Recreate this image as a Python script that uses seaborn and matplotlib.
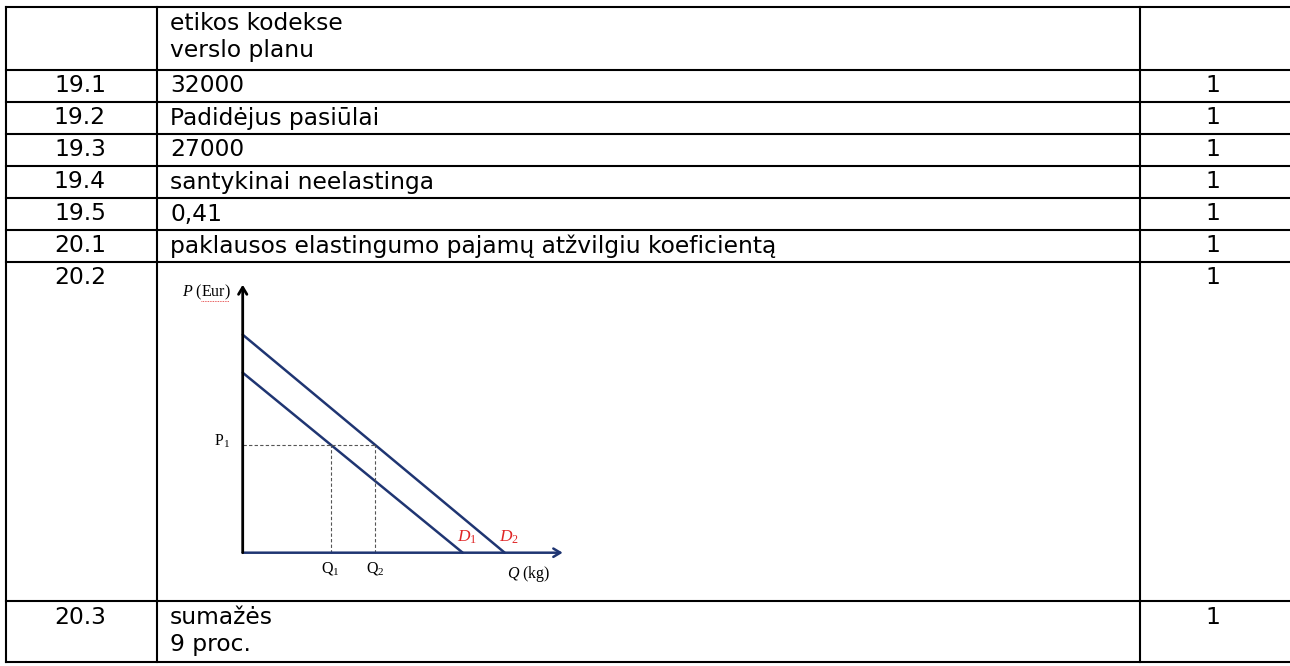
import pandas as pd
import matplotlib.pyplot as plt
import seaborn as sns

sns.set_style('white')
plt.rcParams['font.family'] = ['DejaVu Sans']
plt.rcParams['text.color'] = 'black'
plt.rcParams['mathtext.fontset'] = 'custom'
plt.rcParams['mathtext.rm'] = 'Liberation Serif'
plt.rcParams['mathtext.it'] = 'Liberation Serif:italic'

# ---------------- duomenys ----------------
nums = ['', '19.1', '19.2', '19.3', '19.4', '19.5', '20.1', '20.2', '20.3']
answers = [['etikos kodekse', 'verslo planu'], ['32000'], ['Padidėjus pasiūlai'], ['27000'],
           ['santykinai neelastinga'], ['0,41'],
           ['paklausos elastingumo pajamų atžvilgiu koeficientą'], [], ['sumažės', '9 proc.']]
points = ['', '1', '1', '1', '1', '1', '1', '1', '1']

# grafikas 20.2 (paklausos kreivės)
curve_q = [0, 11.0, 0, 13.1]
curve_p = [9.0, 0, 10.9, 0]
curve_name = ['D1', 'D1', 'D2', 'D2']
p1 = 5.4
q1 = 4.4
q2 = 6.6
q_max = 16.0
p_max = 13.4

navy = '#1f3572'
red = '#e02626'

# ---------------- lentele ----------------
W, H = 1290, 666
fig = plt.figure(figsize=(W / 100, H / 100), dpi=100)
ax = fig.add_axes([0, 0, 1, 1])
ax.set_xlim(0, W)
ax.set_ylim(H, 0)
ax.axis('off')

row_h = [63, 32, 32, 32, 32, 32, 32, 339, 61]
col_x = [6, 157, 1140]
top = 7
fs = 16.8

ys = [top]
for h in row_h:
    ys.append(ys[-1] + h)
for y in ys:
    ax.plot([col_x[0], W], [y, y], color='black', lw=1.5, solid_capstyle='projecting')
for x in col_x:
    ax.plot([x, x], [ys[0], ys[-1]], color='black', lw=1.5, solid_capstyle='projecting')

for i in range(len(nums)):
    base = ys[i] + 22.5
    ax.text(80, base, nums[i], ha='center', va='baseline', fontsize=fs)
    for j, line in enumerate(answers[i]):
        ax.text(col_x[1] + 13, base + j * 27.5, line, ha='left', va='baseline', fontsize=fs)
    ax.text(1213, base, points[i], ha='center', va='baseline', fontsize=fs)

# ---------------- grafikas ----------------
ox, oy, unit = 242.7, 552.7, 20.0
xl, yl = (-4, 17), (-2.5, 14.5)
left = ox + xl[0] * unit
bottom = oy - yl[0] * unit
cax = fig.add_axes([left / W, (H - bottom) / H, (xl[1] - xl[0]) * unit / W, (yl[1] - yl[0]) * unit / H])
cax.patch.set_alpha(0)
cax.set_xlim(*xl)
cax.set_ylim(*yl)
cax.axis('off')

df = pd.DataFrame({'Q': curve_q, 'P': curve_p, 'kreive': curve_name})
sns.lineplot(data=df, x='Q', y='P', units='kreive', estimator=None, color=navy, lw=1.8,
             sort=False, ax=cax, legend=False)

# pagalbines linijos
cax.plot([0, q2], [p1, p1], ls=(0, (3, 2)), color='#555555', lw=0.8)
cax.plot([q1, q1], [0, p1], ls=(0, (3, 2)), color='#555555', lw=0.8)
cax.plot([q2, q2], [0, p1], ls=(0, (3, 2)), color='#555555', lw=0.8)

# asys su rodyklemis
cax.annotate('', xy=(q_max, 0), xytext=(0, 0),
             arrowprops=dict(arrowstyle='->,head_length=0.5,head_width=0.3', color=navy, lw=1.8,
                             shrinkA=0, shrinkB=0))
cax.annotate('', xy=(0, p_max), xytext=(0, 0),
             arrowprops=dict(arrowstyle='->,head_length=0.5,head_width=0.3', color='black', lw=2,
                             shrinkA=0, shrinkB=0))

sfs = 11.5
cax.text(-0.6, 13.0, '$P$ (Eur)', ha='right', va='center', fontsize=sfs, family='Liberation Serif')
cax.plot([-2.1, -0.7], [12.6, 12.6], color=red, lw=0.6, ls=(0, (1, 1)))
cax.text(-0.65, p1 + 0.15, r'$\mathrm{P}_1$', ha='right', va='center', fontsize=sfs)
cax.text(q1, -0.8, r'$\mathrm{Q}_1$', ha='center', va='center', fontsize=sfs)
cax.text(q2 + 0.05, -0.8, r'$\mathrm{Q}_2$', ha='center', va='center', fontsize=sfs)
cax.text(14.3, -1.05, '$Q$ (kg)', ha='center', va='center', fontsize=sfs, family='Liberation Serif')
cax.text(11.2, 0.8, '$D_1$', ha='center', va='center', fontsize=sfs + 1, color=red)
cax.text(13.3, 0.8, '$D_2$', ha='center', va='center', fontsize=sfs + 1, color=red)

fig.savefig('out.png', dpi=100)
plt.close(fig)
